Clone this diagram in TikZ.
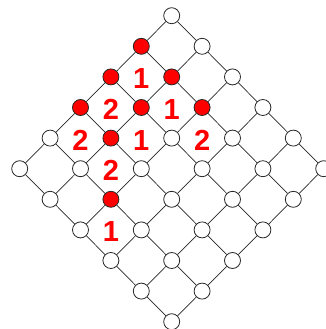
\documentclass[tikz,border=0pt]{standalone}
\usepackage{fontspec}
\setmainfont{Liberation Sans}
\begin{document}
\begin{tikzpicture}[x=1pt,y=-1pt,
  vtx/.style={circle,draw=black!85,fill=white,minimum size=16pt,inner sep=0pt,line width=0.8pt},
  redvtx/.style={vtx,fill=red},
  edge/.style={draw=black!85,line width=0.7pt},
  lbl/.style={text=red,font=\bfseries\fontsize{29}{29}\selectfont,inner sep=0pt}]
\useasboundingbox (0,0) rectangle (325,329);
\foreach \i/\j in {0/0,0/1,0/2,0/3,0/4,0/5,1/3,1/4,1/5,2/2,2/3,2/4,2/5,3/2,3/3,3/4,3/5,4/0,4/1,4/3,4/4,4/5,5/0,5/1,5/2,5/3,5/4,5/5}
  \node[vtx] (n\i\j) at ({171.7+(\j-\i)*30.4},{15.7+(\i+\j)*30.6}) {};
\foreach \i/\j in {1/0,2/0,3/0,1/1,2/1,3/1,1/2,4/2}
  \node[redvtx] (n\i\j) at ({171.7+(\j-\i)*30.4},{15.7+(\i+\j)*30.6}) {};
\foreach \i in {0,...,5}{
  \foreach \j in {0,...,4}{
    \pgfmathtruncatemacro\jj{\j+1}
    \draw[edge] (n\i\j) -- (n\i\jj);
    \draw[edge] (n\j\i) -- (n\jj\i);
  }
}
\foreach \i/\j/\t in {1/0/1,2/0/2,1/1/1,3/0/2,2/1/1,1/2/2,3/1/2,4/2/1}
  \node[lbl] (f\i\j) at ({171.7+(\j-\i)*30.4},{15.7+(\i+\j+1)*30.6+2}) {\t};
\end{tikzpicture}
\end{document}
